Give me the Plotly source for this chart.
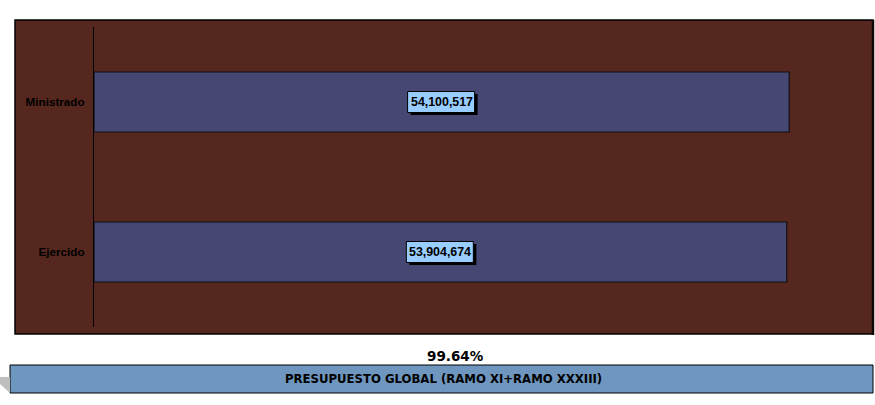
import plotly.graph_objects as go

categories = ["Ejercido", "Ministrado"]
values = [53904674, 54100517]
value_labels = ["53,904,674", "54,100,517"]
percent_text = "99.64%"
title_text = "PRESUPUESTO GLOBAL (RAMO XI+RAMO XXXIII)"

BROWN = "#55271E"
BAR = "#464873"
LABEL_BG = "#99CCFF"
BAND = "#6E96BE"

W, H = 875, 405
L, R, T, B = 94, 10, 27, 78
pw, ph = W - L - R, H - T - B

def px(x):
    return (x - L) / pw

def py(y):
    return (H - B - y) / ph

fig = go.Figure()
fig.add_trace(go.Bar(
    y=categories, x=values, orientation="h",
    marker=dict(color=BAR, line=dict(color="#111111", width=1.2)),
    width=0.4, hoverinfo="skip",
))

ann = []
shapes = [
    dict(type="rect", xref="paper", yref="paper", layer="below",
         x0=px(15), x1=px(873), y0=py(334), y1=py(20),
         fillcolor=BROWN, line=dict(color="#000000", width=1.5)),
    dict(type="line", xref="paper", yref="paper", layer="below",
         x0=px(873), x1=px(873), y0=py(335), y1=py(20),
         line=dict(color="#100806", width=2.5)),
    dict(type="path", xref="paper", yref="paper", layer="above",
         path="M %f,%f L %f,%f L %f,%f L %f,%f Z" % (px(0), py(377), px(10), py(377), px(10), py(393), px(0), py(384)),
         fillcolor="#BEBEBE", line=dict(width=0)),
    dict(type="rect", xref="paper", yref="paper", layer="below",
         x0=px(10), x1=px(873), y0=py(393), y1=py(365),
         fillcolor=BAND, line=dict(color="#000000", width=1)),
]

for i, (c, v, t) in enumerate(zip(categories, values, value_labels)):
    shapes.append(dict(type="rect", xref="x", yref="y", layer="above",
                       xsizemode="pixel", xanchor=v / 2, x0=-31, x1=36,
                       ysizemode="pixel", yanchor=i, y0=-13, y1=8,
                       fillcolor="#000000", line=dict(width=0)))
    shapes.append(dict(type="rect", xref="x", yref="y", layer="above",
                       xsizemode="pixel", xanchor=v / 2, x0=-34, x1=33,
                       ysizemode="pixel", yanchor=i, y0=-10.5, y1=10.5,
                       fillcolor=LABEL_BG, line=dict(color="#000000", width=1)))
    ann.append(dict(x=v / 2, y=c, text="<b>%s</b>" % t, showarrow=False,
                    font=dict(family="Liberation Sans, Arial", size=12.4, color="#000000")))

ann.append(dict(xref="paper", yref="paper", x=px(455), y=py(356), text="<b>%s</b>" % percent_text,
                showarrow=False, xanchor="center", yanchor="middle",
                font=dict(family="DejaVu Sans", size=13.5, color="#000000")))
ann.append(dict(xref="paper", yref="paper", x=px(443.5), y=py(379), text="<b>%s</b>" % title_text,
                showarrow=False, xanchor="center", yanchor="middle",
                font=dict(family="DejaVu Sans", size=11.7, color="#000000")))

fig.update_layout(
    width=W, height=H,
    margin=dict(l=L, r=R, t=T, b=B),
    paper_bgcolor="white", plot_bgcolor="rgba(0,0,0,0)",
    showlegend=False,
    xaxis=dict(range=[0, 60000000], visible=False, showgrid=False, zeroline=False),
    yaxis=dict(categoryorder="array", categoryarray=categories,
               tickmode="array", tickvals=categories,
               ticktext=["<b>%s</b>" % c for c in categories],
               showline=True, linecolor="#000000", linewidth=1,
               showgrid=False, zeroline=False, ticks="", ticklabelstandoff=6,
               tickfont=dict(family="Liberation Sans, Arial", size=11.7, color="#000000"),
               range=[-0.5, 1.5]),
    annotations=ann, shapes=shapes,
)

fig.write_html("out.html", config={"displayModeBar": False},
               post_script="document.body.style.margin='0';document.body.style.overflow='hidden';")
